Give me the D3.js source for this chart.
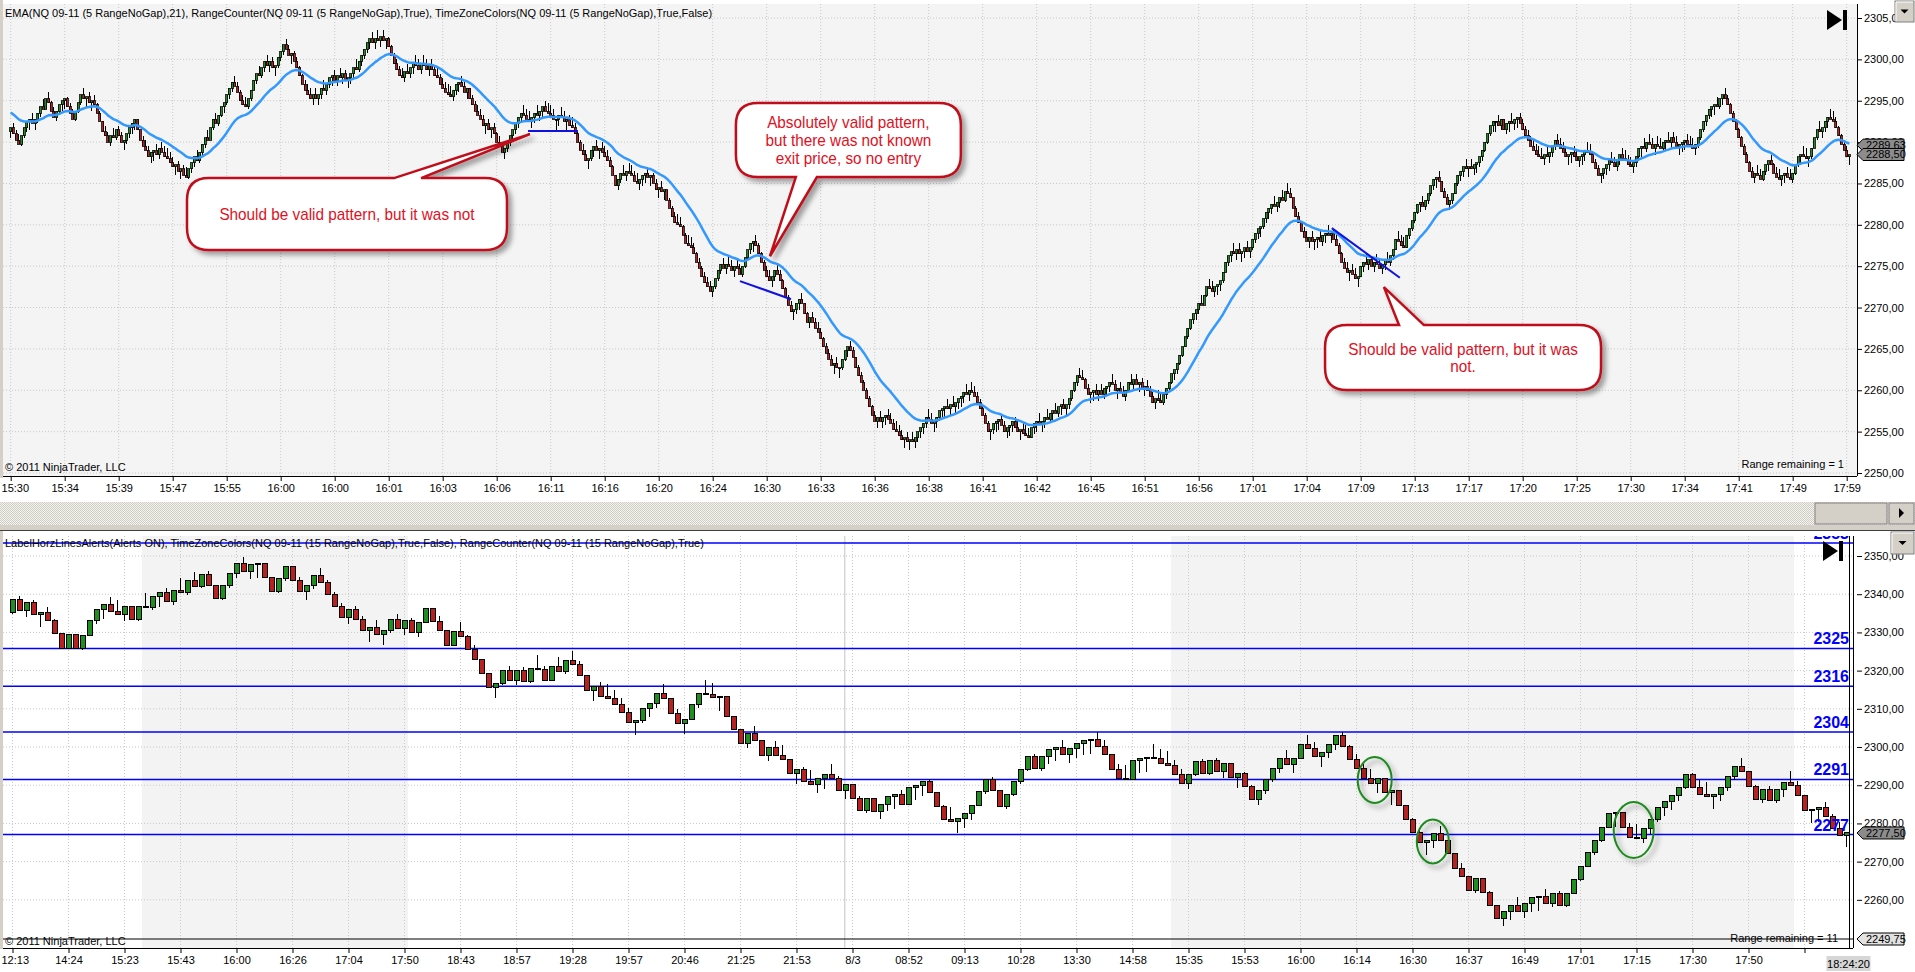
<!DOCTYPE html>
<html>
<head>
<meta charset="utf-8">
<title>NQ 09-11 range charts</title>
<script src="https://cdn.jsdelivr.net/npm/d3@7"></script>
<style>
  html, body { margin: 0; padding: 0; background: #ffffff; overflow: hidden; }
  svg { display: block; font-family: "Liberation Sans", Arial, sans-serif; }
</style>
</head>
<body>
<svg id="chart" width="1915" height="972"></svg>
<script>
// ---- Top panel: NQ 09-11 (5 RangeNoGap) ----
const topFirstOpen = 2291.25;
const topCloses = [
  2291.75, 2291, 2290.25, 2289.75, 2290.75, 2291.75, 2292.5, 2292.75, 2292.25, 2292.75, 2293.5, 2294.25, 2294, 2295.25, 2294.75, 2293.75, 2293, 2293.75, 2294.5, 2295,
  2295.25, 2294.25, 2293.5, 2292.75, 2293.75, 2294.75, 2295.75, 2295.25, 2295.5, 2294.75, 2295, 2294.5, 2293.5, 2292.5, 2291.25, 2290.75, 2290, 2290.75, 2290.5, 2291.5,
  2290.75, 2290, 2290.25, 2291, 2291.75, 2292.25, 2292.75, 2291.5, 2290.25, 2289.5, 2289, 2288.25, 2288.75, 2289, 2288.5, 2289.25, 2288.75, 2288.25, 2288, 2287.5,
  2287, 2287.25, 2286.5, 2286.75, 2286, 2285.75, 2286.75, 2287.5, 2288.25, 2287.75, 2288.75, 2289.75, 2290.5, 2290.25, 2291.75, 2292.75, 2292.25, 2293.25, 2294.25, 2294.75,
  2295.75, 2296.5, 2297.25, 2296.75, 2296, 2295, 2294.5, 2294.25, 2295.25, 2296.25, 2297.5, 2298.25, 2298, 2299, 2299.75, 2299.25, 2299.75, 2299, 2299.25, 2300.25,
  2301, 2301.75, 2301.25, 2300.5, 2300.75, 2299.75, 2299, 2298, 2297, 2296.25, 2295.75, 2295.25, 2295.75, 2295.25, 2295.75, 2296.5, 2296.25, 2297, 2297.75, 2298,
  2297.5, 2298, 2297.75, 2298.25, 2297.5, 2297.75, 2298.25, 2299, 2298.75, 2299.75, 2300.5, 2301.25, 2302, 2302.5, 2302, 2302.5, 2302.25, 2302.75, 2302.25, 2302.5,
  2301.5, 2300.5, 2299.5, 2298.75, 2298, 2297.75, 2298.5, 2298.25, 2299, 2299.5, 2299.25, 2298.75, 2299.5, 2299.25, 2298.75, 2299.25, 2298.75, 2298, 2297.75, 2297,
  2296.5, 2296, 2295.75, 2295.5, 2296.25, 2297, 2297.25, 2296.75, 2296, 2296.5, 2295.25, 2294.5, 2293.75, 2293.25, 2292.75, 2292, 2292.25, 2291.5, 2291.75, 2291,
  2290, 2289.5, 2288.75, 2289.25, 2290, 2290.75, 2291.5, 2292.25, 2293, 2293.5, 2293.25, 2292.75, 2292.5, 2293, 2293.5, 2293.25, 2293.75, 2294.25, 2293.75, 2293.5,
  2293.25, 2292.75, 2292.75, 2293.25, 2293, 2292.5, 2292.75, 2292, 2291.75, 2291, 2290, 2289, 2288.5, 2287.75, 2288, 2289, 2289.5, 2289, 2289.25, 2288.75,
  2288.25, 2287.75, 2287, 2286, 2284.75, 2285.5, 2286.25, 2286, 2286.5, 2286.25, 2286, 2285.25, 2285, 2285.5, 2286, 2286.25, 2285.75, 2286, 2285, 2284.25,
  2284.5, 2284, 2284.25, 2283, 2282, 2281, 2280.25, 2280, 2279.75, 2278.75, 2277.75, 2277.5, 2277.25, 2276.5, 2275.5, 2274.75, 2273.75, 2273, 2272.5, 2272,
  2272.5, 2273.5, 2274.5, 2275.25, 2274.75, 2275.25, 2275, 2274.5, 2275, 2274.75, 2274, 2275, 2276, 2277, 2277.75, 2278, 2277.5, 2276.5, 2275.5, 2274.5,
  2273.75, 2273.25, 2273.75, 2274.5, 2274, 2273.25, 2272.25, 2271.25, 2270.25, 2269.5, 2269.75, 2270.5, 2271, 2270.5, 2269.25, 2268.25, 2268.75, 2268.25, 2267.5, 2267,
  2266.25, 2265.25, 2264.5, 2263.75, 2263, 2263.25, 2262.75, 2262.75, 2263.75, 2264.75, 2265.25, 2264.75, 2264, 2262.75, 2261.75, 2261, 2260, 2259, 2258, 2257,
  2256.25, 2256.75, 2256.25, 2256.75, 2257, 2256.5, 2256, 2255.25, 2255, 2254.5, 2254, 2254.25, 2253.75, 2254, 2253.75, 2254.25, 2255, 2255.5, 2256, 2256.75,
  2256.5, 2256, 2256.25, 2256.75, 2257.5, 2257.75, 2258, 2257.75, 2258.25, 2258, 2258.5, 2259, 2259.25, 2259.75, 2259.5, 2260, 2259.75, 2259.25, 2258.5, 2257.75,
  2257, 2256, 2255, 2255.25, 2256, 2256.25, 2256.5, 2255.75, 2255, 2255.5, 2255.75, 2256.25, 2255.5, 2255, 2255.25, 2254.75, 2254.5, 2254.25, 2255.5, 2256,
  2256.25, 2256, 2256.25, 2256.75, 2256.5, 2257.25, 2257.5, 2257.25, 2258, 2258.25, 2257.75, 2258.25, 2259, 2260, 2261, 2261.75, 2261.5, 2261.25, 2260.25, 2259.5,
  2259.75, 2260, 2259.5, 2260, 2259.5, 2260.25, 2260.5, 2261, 2260.75, 2260, 2260.25, 2259.75, 2259.25, 2260, 2261, 2260.75, 2261.25, 2260.75, 2261, 2260.25,
  2260.5, 2260, 2259.25, 2258.5, 2259, 2258.75, 2258.5, 2259.5, 2260.25, 2261, 2262, 2262.5, 2263.25, 2264.25, 2265.25, 2266.5, 2267.5, 2268.5, 2269.25, 2269.75,
  2270.5, 2270.25, 2271.5, 2272.5, 2272.25, 2272, 2272.5, 2272.75, 2273.25, 2274.25, 2275.5, 2276.25, 2276.75, 2276.5, 2277, 2276.5, 2276.75, 2277.25, 2276.75, 2277.25,
  2278.25, 2279, 2279.5, 2279.75, 2280.75, 2281.5, 2282, 2282.5, 2282.25, 2282.75, 2283.25, 2283, 2284, 2283.75, 2283.25, 2282, 2281, 2280.25, 2279.25, 2278.5,
  2278, 2278.5, 2278, 2278.25, 2278.5, 2278, 2278.75, 2279, 2278.75, 2279, 2278.25, 2277.5, 2276.5, 2275.5, 2274.75, 2274.25, 2274.5, 2274, 2273.5, 2273.75,
  2275, 2275.5, 2275.25, 2275.75, 2275, 2275.5, 2275.25, 2274.75, 2275.25, 2275.75, 2275.5, 2276.25, 2277, 2278.25, 2278, 2277.5, 2277.25, 2278.75, 2279.5, 2280.5,
  2281.5, 2282.5, 2282.75, 2282.25, 2283, 2283.75, 2284.75, 2285.5, 2285.75, 2285.25, 2284, 2283.25, 2282.5, 2283, 2283.75, 2285, 2286, 2286.5, 2287, 2286.75,
  2287, 2286.75, 2287.25, 2287.5, 2288.25, 2289, 2290, 2291, 2292, 2292.5, 2292.5, 2292, 2292.75, 2291.5, 2292.25, 2292.5, 2292.25, 2292.75, 2293, 2292.25,
  2291.5, 2290.75, 2290.25, 2289.5, 2289, 2288.5, 2288.25, 2288, 2288.5, 2288.25, 2288.75, 2289.5, 2290.25, 2289.75, 2289.25, 2288.75, 2288.25, 2288.5, 2288.75, 2288.25,
  2287.75, 2288.25, 2288.5, 2289, 2288.75, 2288.5, 2287.5, 2286.75, 2286, 2286.25, 2286.75, 2287.25, 2287.75, 2287.5, 2287, 2287.75, 2288.5, 2288, 2287.75, 2287.25,
  2287, 2287.5, 2288.25, 2289.25, 2289.5, 2289.25, 2290, 2289.75, 2289.25, 2289.75, 2289.5, 2289.25, 2290, 2290.25, 2290, 2290.5, 2290, 2289.5, 2289.75, 2290,
  2290.25, 2289.75, 2289.5, 2289.25, 2289.75, 2290.5, 2291.5, 2292.5, 2293.25, 2294, 2294.25, 2294.5, 2294.25, 2295.25, 2295.75, 2295.25, 2294.5, 2293.5, 2292.5, 2291.5,
  2290.5, 2289.5, 2288.5, 2287.5, 2286.5, 2285.75, 2286.25, 2286, 2285.5, 2286.5, 2287.25, 2287.75, 2287.25, 2286.25, 2285.75, 2285.5, 2286, 2286.25, 2285.75, 2285.5,
  2286.25, 2287.25, 2288.25, 2288.5, 2288.25, 2288, 2288.25, 2289.25, 2290.5, 2291.5, 2291.25, 2291.75, 2292.5, 2293, 2292.75, 2292.5, 2291.75, 2290.75, 2289.75, 2289,
  2288.25, 2288.5
];
const topRangeSize = 1.25;          // 5 ticks of 0.25
const emaPeriod = 21;
const emaSeed = 2293.75;            // EMA value at the left edge of the chart
const topPriceTicks = [2250, 2255, 2260, 2265, 2270, 2275, 2280, 2285, 2290, 2295, 2300, 2305];
const topTimeLabels = ["15:30", "15:34", "15:39", "15:47", "15:55", "16:00", "16:00", "16:01", "16:03", "16:06", "16:11", "16:16",
  "16:20", "16:24", "16:30", "16:33", "16:36", "16:38", "16:41", "16:42", "16:45", "16:51", "16:56", "17:01", "17:04", "17:09",
  "17:13", "17:17", "17:20", "17:25", "17:30", "17:34", "17:41", "17:49", "17:59"];
const topLabelEvery = 20;
const topMarkerValues = [2289.63, 2288.50];
// hand drawn pattern lines: [bar1, price1, bar2, price2]
const topPatternLines = [
  [191.6, 2291.35, 210.1, 2291.35],
  [270.1, 2273.2, 289.0, 2271.0],
  [489.3, 2279.6, 514.5, 2273.6]
];
const topHeader = "EMA(NQ 09-11 (5 RangeNoGap),21), RangeCounter(NQ 09-11 (5 RangeNoGap),True), TimeZoneColors(NQ 09-11 (5 RangeNoGap),True,False)";

// callouts, anchored in bar / price units
const callouts = [
  { lines: ["Should be valid pattern, but it was not"], box: [65.3, 183.8, 2285.65, 2276.95], base: [142, 152], tip: [192.3, 2290.97] },
  { lines: ["Absolutely valid pattern,", "but there was not known", "exit price, so no entry"], box: [268.6, 351.9, 2294.72, 2285.77], base: [290.8, 298.6], tip: [281.2, 2276.2] },
  { lines: ["Should be valid pattern, but it was", "not."], box: [486.8, 589.0, 2267.88, 2260.02], base: [514.2, 523.4], tip: [508.6, 2272.47] }
];

// ---- Bottom panel: NQ 09-11 (15 RangeNoGap) ----
const bottomFirstOpen = 2335.25;
const bottomCloses = [
  2338.5, 2335.75, 2337.75, 2334.75, 2335.25, 2333, 2329.75, 2325.75, 2329.5, 2325.75,
  2329.25, 2333, 2336, 2337.25, 2335.5, 2334.75, 2336.75, 2333.25, 2336.75, 2336.5,
  2339.5, 2340.5, 2338, 2341, 2340.5, 2343.5, 2342, 2345.25, 2342.25, 2338.75,
  2342.25, 2345.5, 2348, 2346, 2347.75, 2348, 2344.5, 2340.75, 2344, 2347.25,
  2343.5, 2340.75, 2342.25, 2345, 2343, 2340, 2336.75, 2334, 2336, 2333.25,
  2330.5, 2331.25, 2329.5, 2330.5, 2333.5, 2331, 2333, 2330, 2332.5, 2336.25,
  2332.75, 2330.5, 2326.5, 2330.25, 2329, 2325.5, 2323, 2319.25, 2315.5, 2316.5,
  2320, 2317.5, 2320, 2317.25, 2320.5, 2320.25, 2317.5, 2321, 2319.75, 2322.75,
  2321.5, 2318.75, 2314.75, 2315.75, 2313.25, 2312.75, 2311.25, 2309, 2306.5, 2307,
  2310, 2311.5, 2314, 2312.75, 2308.75, 2306.25, 2307.25, 2311, 2314, 2313.75,
  2313, 2313.25, 2308, 2304.5, 2301, 2303.5, 2301.75, 2297.75, 2300, 2297.75,
  2296.75, 2293, 2294, 2291, 2290.25, 2291.75, 2292.75, 2291.75, 2288.75, 2290.25,
  2286.5, 2283.5, 2286.5, 2283, 2285, 2287, 2287.5, 2285, 2289.5, 2290,
  2291, 2288, 2284.5, 2281, 2280.5, 2281.25, 2282.5, 2284.75, 2288.25, 2291.5,
  2288.5, 2284.5, 2287.5, 2291, 2294, 2297.5, 2294.5, 2297.5, 2299.25, 2300,
  2298, 2299.5, 2301, 2301.75, 2302, 2300.25, 2298, 2294, 2291.75, 2291.5,
  2296.5, 2297, 2297.25, 2297, 2295.75, 2295.25, 2292.75, 2290.5, 2292.75, 2296.25,
  2293, 2296.5, 2293.5, 2295.75, 2292, 2293, 2289.75, 2286.25, 2288.5, 2291.5,
  2294.5, 2297, 2295.5, 2297, 2300.75, 2299.5, 2297.5, 2298.5, 2300.75, 2303,
  2300.25, 2296.75, 2294.5, 2291.75, 2290.5, 2291.75, 2288, 2288.5, 2284.75, 2281,
  2277.75, 2275, 2275.5, 2277.25, 2275.5, 2272, 2268.25, 2266, 2262.5, 2265.5,
  2262, 2258.5, 2255, 2257, 2258.5, 2257, 2259, 2260.5, 2260.75, 2259,
  2261.75, 2258.5, 2261.75, 2265.25, 2268.75, 2272.5, 2275.5, 2279, 2282.5, 2282.75,
  2279, 2276.25, 2276, 2278.75, 2281, 2284.25, 2285.75, 2287.25, 2289.5, 2292.75,
  2289.5, 2287.5, 2287, 2287.5, 2289.5, 2292.25, 2295, 2293.5, 2289.75, 2286.25,
  2289, 2286, 2289, 2290.75, 2290, 2287.25, 2283.5, 2283.75, 2284.25, 2281.75,
  2278.75, 2276.75, 2277.5
];
const bottomRangeSize = 3.75;       // 15 ticks of 0.25
const bottomPriceTicks = [2260, 2270, 2280, 2290, 2300, 2310, 2320, 2330, 2340, 2350];
const bottomTimeLabels = ["12:13", "14:24", "15:23", "15:43", "16:00", "16:26", "17:04", "17:50", "18:43", "18:57", "19:28",
  "19:57", "20:46", "21:25", "21:53", "8/3", "08:52", "09:13", "10:28", "13:30", "14:58", "15:35", "15:53", "16:00",
  "16:14", "16:30", "16:37", "16:49", "17:01", "17:15", "17:30", "17:50"];
const bottomLabelEvery = 8;
const levelValues = [2353.4, 2325.8, 2315.9, 2303.9, 2291.5, 2277.1];
const levelLabels = ["2353", "2325", "2316", "2304", "2291", "2277"];
const lowLineValue = 2249.75;
const shadedBars = [[19, 56], [166, 254]];
const sessionBreakBar = 118.9;
const circledPoints = [[194.6, 2291.4], [202.9, 2275.3], [231.6, 2278.3]];
const bottomMarkerValues = [2277.50, 2249.75];
const lastBarTime = "18:24:20";
const bottomHeader = "LabelHorzLinesAlerts(Alerts ON), TimeZoneColors(NQ 09-11 (15 RangeNoGap),True,False), RangeCounter(NQ 09-11 (15 RangeNoGap),True)";

// ---- Layout ----
const FONT = "Liberation Sans, Arial, sans-serif";
const UP = "#1f8f1f", DOWN = "#b8211f";
const topBox = { left: 3, right: 1857, top: 4, bottom: 476 };
const botBox = { left: 3, right: 1853, top: 536, bottom: 948 };
const ellipseRadii = [[17, 23], [16, 22], [20, 28]];

const svg = d3.select("#chart");
const defs = svg.append("defs");

defs.append("filter").attr("id", "shadow").attr("x", "-20%").attr("y", "-20%").attr("width", "150%").attr("height", "160%")
  .append("feDropShadow").attr("dx", 4).attr("dy", 4).attr("stdDeviation", 2.5)
  .attr("flood-color", "#000").attr("flood-opacity", 0.35);

const hatch = defs.append("pattern").attr("id", "hatch").attr("width", 2).attr("height", 2)
  .attr("patternUnits", "userSpaceOnUse");
hatch.append("rect").attr("width", 2).attr("height", 2).attr("fill", "#f4f3ef");
hatch.append("rect").attr("width", 1).attr("height", 1).attr("fill", "#cfccc4");
hatch.append("rect").attr("x", 1).attr("y", 1).attr("width", 1).attr("height", 1).attr("fill", "#cfccc4");

function clip(id, b) {
  defs.append("clipPath").attr("id", id).append("rect")
    .attr("x", b.left).attr("y", b.top).attr("width", b.right - b.left).attr("height", b.bottom - b.top);
}
clip("clipTop", topBox);
clip("clipBot", botBox);

// Range bars: open at previous close, close sits on the extreme of a full range
function buildBars(firstOpen, closes, range) {
  return closes.map((c, i) => {
    const o = i === 0 ? firstOpen : closes[i - 1];
    const up = c >= o;
    let h = up ? c : c + range;
    let l = up ? c - range : c;
    return { i, o, c, h: Math.max(h, o), l: Math.min(l, o) };
  });
}

function priceFormat(v) { return v.toFixed(2).replace(".", ","); }

function drawCandles(g, bars, x, y, bodyW, strokeW) {
  g.append("g").selectAll("line").data(bars).join("line")
    .attr("x1", d => x(d.i)).attr("x2", d => x(d.i))
    .attr("y1", d => y(d.h)).attr("y2", d => y(d.l))
    .attr("stroke", "#000").attr("stroke-width", 1)
    .attr("shape-rendering", "crispEdges");
  g.append("g").selectAll("rect").data(bars).join("rect")
    .attr("x", d => x(d.i) - bodyW / 2)
    .attr("y", d => y(Math.max(d.o, d.c)))
    .attr("width", bodyW)
    .attr("height", d => Math.max(1, Math.abs(y(d.o) - y(d.c))))
    .attr("fill", d => d.c > d.o ? UP : d.c < d.o ? DOWN : "#000")
    .attr("stroke", "#000").attr("stroke-width", strokeW)
    .attr("shape-rendering", "crispEdges");
}

function drawGrid(g, box, x, y, barTicks, priceTicks) {
  g.append("g").selectAll("line").data(barTicks).join("line")
    .attr("x1", d => x(d)).attr("x2", d => x(d))
    .attr("y1", box.top).attr("y2", box.bottom)
    .attr("stroke", "#c8c8c8").attr("stroke-dasharray", "1,2");
  g.append("g").selectAll("line").data(priceTicks).join("line")
    .attr("x1", box.left).attr("x2", box.right)
    .attr("y1", d => y(d)).attr("y2", d => y(d))
    .attr("stroke", "#c8c8c8").attr("stroke-dasharray", "1,2");
}

function drawPriceAxis(x0, y, ticks) {
  const a = svg.append("g").attr("transform", `translate(${x0},0)`)
    .call(d3.axisRight(y).tickValues(ticks).tickSize(5).tickPadding(2).tickFormat(priceFormat));
  a.select(".domain").remove();
  a.attr("font-size", 11).attr("font-family", FONT);
  a.selectAll("line").attr("stroke", "#000");
  a.selectAll("text").attr("fill", "#000");
}

function drawTimeAxis(y0, x, ticks, labels, box) {
  const a = svg.append("g").attr("transform", `translate(0,${y0})`)
    .call(d3.axisBottom(x).tickValues(ticks).tickSize(5).tickPadding(3).tickFormat((d, k) => labels[k] || ""));
  a.select(".domain").remove();
  a.attr("font-size", 11).attr("font-family", FONT);
  a.selectAll("line").attr("stroke", "#000");
  a.selectAll("text").attr("fill", "#000");
  // keep the first label inside the window instead of cutting it at the left edge
  a.selectAll(".tick").each(function (d) {
    const t = d3.select(this).select("text");
    const px = x(d), w = t.node().getComputedTextLength();
    if (px - w / 2 < 1) t.attr("text-anchor", "start").attr("x", 1 - px);
  });
  svg.append("line").attr("x1", 0).attr("x2", box.right).attr("y1", y0 + 0.5).attr("y2", y0 + 0.5)
    .attr("stroke", "#000");
}

function marker(x0, y, value, fill) {
  const g = svg.append("g").attr("transform", `translate(${x0},${y})`);
  g.append("path").attr("d", "M0,0 L6,-6 L47,-6 L47,6 L6,6 Z")
    .attr("fill", fill).attr("stroke", "#000").attr("stroke-width", 1);
  g.append("text").attr("x", 9).attr("dy", "0.36em").attr("font-size", 11).attr("font-family", FONT)
    .attr("fill", "#000").text(priceFormat(value));
}

function goLastIcon(x0, y0) {
  svg.append("path").attr("d", `M${x0},${y0} L${x0},${y0 + 20} L${x0 + 15},${y0 + 10} Z`).attr("fill", "#000");
  svg.append("rect").attr("x", x0 + 16).attr("y", y0).attr("width", 4).attr("height", 20).attr("fill", "#000");
}

function dropButton(x0, y0, w, h) {
  svg.append("rect").attr("x", x0).attr("y", y0).attr("width", w).attr("height", h)
    .attr("fill", "#d4d0c8").attr("stroke", "#808080");
  svg.append("line").attr("x1", x0 + 1).attr("x2", x0 + w - 1).attr("y1", y0 + 1).attr("y2", y0 + 1).attr("stroke", "#fff");
  svg.append("line").attr("x1", x0 + 1).attr("x2", x0 + 1).attr("y1", y0 + 1).attr("y2", y0 + h - 1).attr("stroke", "#fff");
  const cx = x0 + w / 2, cy = y0 + h / 2;
  svg.append("path").attr("d", `M${cx - 4},${cy - 2} L${cx + 4},${cy - 2} L${cx},${cy + 2} Z`).attr("fill", "#000");
}

// ---- Window chrome ----
svg.append("rect").attr("width", 1915).attr("height", 972).attr("fill", "#ffffff");
svg.append("rect").attr("x", 0).attr("y", 502).attr("width", 1915).attr("height", 23).attr("fill", "url(#hatch)");
svg.append("rect").attr("x", 1815).attr("y", 503).attr("width", 72).attr("height", 21)
  .attr("fill", "#d4d0c8").attr("stroke", "#808080");
svg.append("rect").attr("x", 1889).attr("y", 503).attr("width", 25).attr("height", 21)
  .attr("fill", "#d4d0c8").attr("stroke", "#808080");
svg.append("path").attr("d", "M1899,508 L1899,518 L1904,513 Z").attr("fill", "#000");
svg.append("rect").attr("x", 0).attr("y", 525).attr("width", 1915).attr("height", 6).attr("fill", "#d4d0c8");
svg.append("line").attr("x1", 0).attr("x2", 1915).attr("y1", 530.5).attr("y2", 530.5).attr("stroke", "#404040");

// ================= TOP PANEL =================
const topBars = buildBars(topFirstOpen, topCloses, topRangeSize);
const xTop = d3.scaleLinear().domain([0, topCloses.length - 1]).range([10.7, 10.7 + (topCloses.length - 1) * 2.7]);
const yTop = d3.scaleLinear().domain([2250, 2305]).range([473, 18]);

const k = 2 / (emaPeriod + 1);
let emaVal = emaSeed;
const ema = topBars.map(b => (emaVal = emaVal + k * (b.c - emaVal)));

const topTicks = topTimeLabels.map((_, j) => j * topLabelEvery);

svg.append("rect").attr("x", topBox.left).attr("y", topBox.top)
  .attr("width", topBox.right - topBox.left).attr("height", topBox.bottom - topBox.top).attr("fill", "#f4f4f4");

const gTop = svg.append("g").attr("clip-path", "url(#clipTop)");
drawGrid(gTop, topBox, xTop, yTop, topTicks, topPriceTicks);
drawCandles(gTop, topBars, xTop, yTop, 2, 0.8);

gTop.append("path").datum(ema)
  .attr("d", d3.line().x((d, j) => xTop(j)).y(d => yTop(d)))
  .attr("fill", "none").attr("stroke", "#3399ff").attr("stroke-width", 2.5)
  .attr("stroke-linejoin", "round");

gTop.append("g").selectAll("line").data(topPatternLines).join("line")
  .attr("x1", d => xTop(d[0])).attr("y1", d => yTop(d[1]))
  .attr("x2", d => xTop(d[2])).attr("y2", d => yTop(d[3]))
  .attr("stroke", "#1010e0").attr("stroke-width", 2);

// callouts
function calloutPath(bx0, bx1, by0, by1, b0, b1, tx, ty) {
  const r = 22;
  const onTop = ty < by0;
  let p = `M${bx0 + r},${by0}`;
  if (onTop) p += ` L${b0},${by0} L${tx},${ty} L${b1},${by0}`;
  p += ` L${bx1 - r},${by0} Q${bx1},${by0} ${bx1},${by0 + r} L${bx1},${by1 - r} Q${bx1},${by1} ${bx1 - r},${by1}`;
  if (!onTop) p += ` L${b1},${by1} L${tx},${ty} L${b0},${by1}`;
  p += ` L${bx0 + r},${by1} Q${bx0},${by1} ${bx0},${by1 - r} L${bx0},${by0 + r} Q${bx0},${by0} ${bx0 + r},${by0} Z`;
  return p;
}

callouts.forEach(c => {
  const bx0 = xTop(c.box[0]), bx1 = xTop(c.box[1]);
  const by0 = yTop(c.box[2]), by1 = yTop(c.box[3]);
  const g = svg.append("g");
  g.append("path")
    .attr("d", calloutPath(bx0, bx1, by0, by1, xTop(c.base[0]), xTop(c.base[1]), xTop(c.tip[0]), yTop(c.tip[1])))
    .attr("fill", "#ffffff").attr("stroke", "#c0101a").attr("stroke-width", 2.5)
    .attr("filter", "url(#shadow)");
  const cy = (by0 + by1) / 2;
  const lh = 17.7;
  c.lines.forEach((line, j) => {
    const t = g.append("text").attr("x", (bx0 + bx1) / 2)
      .attr("y", cy - (c.lines.length - 1) * lh / 2 + j * lh + 6)
      .attr("text-anchor", "middle").attr("font-size", 17).attr("font-family", FONT)
      .attr("fill", "#e0101e").text(line);
    const w = t.node().getComputedTextLength();
    t.attr("textLength", w * 0.9).attr("lengthAdjust", "spacingAndGlyphs");
  });
});

svg.append("text").attr("x", 5).attr("y", 17).attr("font-size", 11).attr("font-family", FONT)
  .attr("fill", "#000").text(topHeader);
svg.append("text").attr("x", 5).attr("y", 471).attr("font-size", 11).attr("font-family", FONT)
  .attr("fill", "#000").text("\u00a9 2011 NinjaTrader, LLC");
svg.append("text").attr("x", 1844).attr("y", 468).attr("text-anchor", "end").attr("font-size", 11)
  .attr("font-family", FONT).attr("fill", "#000").text("Range remaining = 1");
goLastIcon(1827, 10);

svg.append("line").attr("x1", topBox.right + 0.5).attr("x2", topBox.right + 0.5)
  .attr("y1", topBox.top).attr("y2", topBox.bottom).attr("stroke", "#000");
drawPriceAxis(topBox.right, yTop, topPriceTicks);
drawTimeAxis(topBox.bottom, xTop, topTicks, topTimeLabels, topBox);
topMarkerValues.forEach(v => marker(topBox.right, yTop(v), v, "#8c8c8c"));

// ================= BOTTOM PANEL =================
const botBars = buildBars(bottomFirstOpen, bottomCloses, bottomRangeSize);
const xBot = d3.scaleLinear().domain([0, bottomCloses.length - 1]).range([12.5, 12.5 + (bottomCloses.length - 1) * 7]);
const yBot = d3.scaleLinear().domain([2249.75, 2350]).range([939, 556]);
const botTicks = d3.range(0, bottomCloses.length, bottomLabelEvery);

const gBot = svg.append("g").attr("clip-path", "url(#clipBot)");
gBot.append("rect").attr("x", botBox.left).attr("y", botBox.top)
  .attr("width", botBox.right - botBox.left).attr("height", botBox.bottom - botBox.top).attr("fill", "#ffffff");
gBot.append("g").selectAll("rect").data(shadedBars).join("rect")
  .attr("x", d => xBot(d[0] - 0.5)).attr("width", d => xBot(d[1] + 0.5) - xBot(d[0] - 0.5))
  .attr("y", botBox.top).attr("height", botBox.bottom - botBox.top).attr("fill", "#f3f3f3");
drawGrid(gBot, botBox, xBot, yBot, botTicks, bottomPriceTicks);
gBot.append("line").attr("x1", xBot(sessionBreakBar)).attr("x2", xBot(sessionBreakBar))
  .attr("y1", botBox.top).attr("y2", botBox.bottom).attr("stroke", "#c4c4c4");

gBot.append("g").selectAll("line").data(levelValues).join("line")
  .attr("x1", botBox.left).attr("x2", botBox.right)
  .attr("y1", d => yBot(d)).attr("y2", d => yBot(d))
  .attr("stroke", "#0000ff").attr("stroke-width", 1.5);
gBot.append("line").attr("x1", botBox.left).attr("x2", botBox.right)
  .attr("y1", yBot(lowLineValue)).attr("y2", yBot(lowLineValue)).attr("stroke", "#000").attr("stroke-width", 1.2);

drawCandles(gBot, botBars, xBot, yBot, 5, 1);

gBot.append("g").selectAll("text").data(levelValues).join("text")
  .attr("x", botBox.right - 4).attr("y", d => yBot(d) - 4)
  .attr("text-anchor", "end").attr("font-size", 16).attr("font-weight", "bold")
  .attr("font-family", FONT).attr("fill", "#0000ff")
  .text((d, j) => levelLabels[j]);

gBot.append("g").selectAll("ellipse").data(circledPoints).join("ellipse")
  .attr("cx", d => xBot(d[0])).attr("cy", d => yBot(d[1]))
  .attr("rx", (d, j) => ellipseRadii[j][0]).attr("ry", (d, j) => ellipseRadii[j][1])
  .attr("fill", "none").attr("stroke", "#1e8a1e").attr("stroke-width", 2)
  .attr("filter", "url(#shadow)");

svg.append("text").attr("x", 5).attr("y", 547).attr("font-size", 11).attr("font-family", FONT)
  .attr("fill", "#000").text(bottomHeader);
svg.append("text").attr("x", 5).attr("y", 945).attr("font-size", 11).attr("font-family", FONT)
  .attr("fill", "#000").text("\u00a9 2011 NinjaTrader, LLC");
svg.append("text").attr("x", 1838).attr("y", 942).attr("text-anchor", "end").attr("font-size", 11)
  .attr("font-family", FONT).attr("fill", "#000").text("Range remaining = 11");
goLastIcon(1823, 541);

svg.append("line").attr("x1", botBox.right - 3.5).attr("x2", botBox.right - 3.5)
  .attr("y1", botBox.top).attr("y2", botBox.bottom).attr("stroke", "#000");
svg.append("line").attr("x1", botBox.right + 0.5).attr("x2", botBox.right + 0.5)
  .attr("y1", botBox.top).attr("y2", botBox.bottom).attr("stroke", "#000");
drawPriceAxis(botBox.right + 4, yBot, bottomPriceTicks);
drawTimeAxis(botBox.bottom, xBot, botTicks, bottomTimeLabels, botBox);
marker(botBox.right + 4, yBot(bottomMarkerValues[0]), bottomMarkerValues[0], "#8c8c8c");
marker(botBox.right + 4, yBot(bottomMarkerValues[1]), bottomMarkerValues[1], "#e2e2e2");

// time box of the last bar
svg.append("rect").attr("x", xBot(bottomCloses.length - 1) - 20).attr("y", 956).attr("width", 44).attr("height", 15)
  .attr("fill", "#d6d6d6");
svg.append("text").attr("x", xBot(bottomCloses.length - 1) + 2).attr("y", 967.5).attr("text-anchor", "middle")
  .attr("font-size", 11).attr("font-family", FONT).attr("fill", "#000").text(lastBarTime);

// window frame on the left and drop-down buttons
svg.append("rect").attr("x", 0).attr("y", 0).attr("width", 3).attr("height", 478).attr("fill", "#d4d0c8");
svg.append("rect").attr("x", 0).attr("y", 531).attr("width", 3).attr("height", 418).attr("fill", "#d4d0c8");
dropButton(1895, 1, 19, 21);
dropButton(1891, 532, 23, 22);
</script>
</body>
</html>
